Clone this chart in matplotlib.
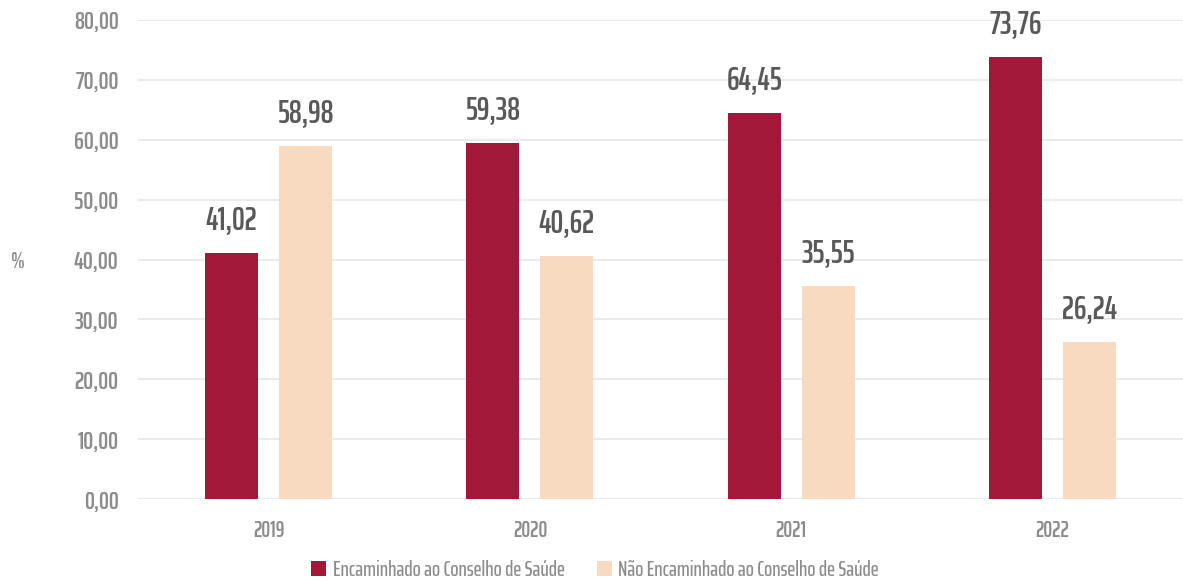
import matplotlib
matplotlib.use("Agg")
import matplotlib.pyplot as plt
import numpy as np

years = ["2019", "2020", "2021", "2022"]
encaminhado = [41.02, 59.38, 64.45, 73.76]
nao_encaminhado = [58.98, 40.62, 35.55, 26.24]
series_names = ["Encaminhado ao Conselho de Saúde", "Não Encaminhado ao Conselho de Saúde"]
yticks = [0, 10, 20, 30, 40, 50, 60, 70, 80]

FONT = ["Saira ExtraCondensed", "DejaVu Sans"]
plt.rcParams["font.family"] = FONT

RED = "#A11839"
PEACH = "#F8DAC0"
TICK = "#8C8C8C"
VAL = "#595959"

fig = plt.figure(figsize=(11.83, 5.81), dpi=100)
ax = fig.add_axes([138 / 1183, 0.1411, 1045 / 1183, 0.8245])

x = np.arange(len(years))
w = 0.203
off = 0.1415
b1 = ax.bar(x - off, encaminhado, w, color=RED, label=series_names[0], zorder=3)
b2 = ax.bar(x + off, nao_encaminhado, w, color=PEACH, label=series_names[1], zorder=3)

def fmt(v):
    return f"{v:.2f}".replace(".", ",")

for bars, vals in ((b1, encaminhado), (b2, nao_encaminhado)):
    for r, v in zip(bars, vals):
        ax.annotate(fmt(v), (r.get_x() + r.get_width() / 2, v), xytext=(0, 13),
                    textcoords="offset points", ha="center", va="bottom",
                    fontsize=23, fontweight="semibold", color=VAL)

ax.set_xlim(-0.5, 3.5)
ax.set_ylim(0, 80)
ax.set_yticks(yticks)
ax.set_yticklabels([fmt(t) for t in yticks])
ax.set_xticks(x)
ax.set_xticklabels(years)
ax.tick_params(axis="y", length=0, pad=14, labelsize=18, labelcolor=TICK)
ax.tick_params(axis="x", length=0, pad=15, labelsize=16, labelcolor=TICK)
for lab in ax.get_yticklabels() + ax.get_xticklabels():
    lab.set_fontweight("semibold")
ax.grid(axis="y", color="#EBEBEB", linewidth=1.5, zorder=0)
for s in ax.spines.values():
    s.set_visible(False)

fig.text(18 / 1183, 1 - 262 / 581, "%", ha="center", va="center", fontsize=16,
         color=TICK, fontweight="semibold")

leg = fig.legend(handles=[b1, b2], loc="center", bbox_to_anchor=(0.503, 1 - 570 / 581),
                 ncol=2, frameon=False, fontsize=15.5, handlelength=0.7, handleheight=0.7,
                 columnspacing=1.5, handletextpad=0.3)
for t in leg.get_texts():
    t.set_color(TICK)
    t.set_fontweight("medium")

fig.savefig("out.png", dpi=100)
